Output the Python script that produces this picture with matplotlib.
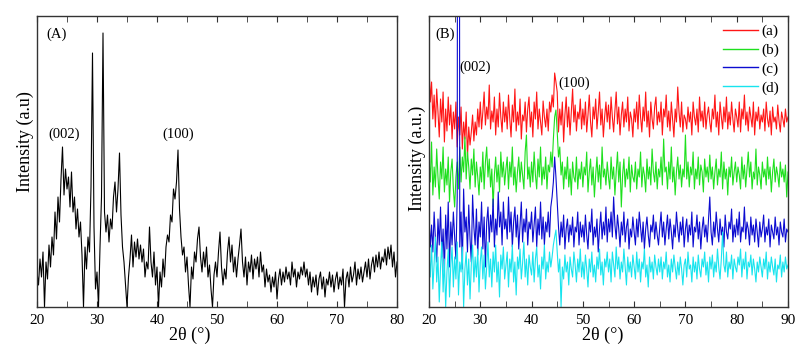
import numpy as np
import matplotlib
matplotlib.use("Agg")
import matplotlib.pyplot as plt
from matplotlib.ticker import MultipleLocator

plt.rcParams['font.family'] = ['Liberation Serif', 'DejaVu Serif']
plt.rcParams['mathtext.fontset'] = 'stix'

# ---------------- data ----------------
step = 0.25
a_start, a_end = 20, 80
b_start, b_end = 20, 90

intensity_A = [
    35, 22, 48, 30, 55, 0, 45, 28, 62, 40, 70, 52, 95, 68, 110, 85, 128, 160, 112, 138,
    118, 130, 100, 135, 95, 110, 78, 98, 70, 85, 52, 0, 60, 38, 70, 55, 120, 254, 80, 18,
    35, 0, 60, 110, 274, 95, 75, 92, 65, 88, 78, 110, 125, 95, 118, 154, 92, 60, 45, 22,
    0, 30, 48, 72, 40, 65, 50, 68, 48, 62, 45, 58, 30, 45, 38, 80, 45, 30, 55, 22,
    40, 0, 35, 20, 48, 30, 60, 72, 65, 92, 85, 118, 108, 125, 157, 98, 70, 52, 60, 35,
    50, 22, 0, 40, 28, 55, 45, 68, 80, 50, 35, 55, 40, 60, 30, 42, 18, 0, 32, 45,
    30, 55, 75, 40, 22, 38, 28, 55, 70, 45, 62, 35, 50, 30, 48, 62, 78, 45, 30, 50,
    22, 45, 35, 52, 28, 48, 38, 50, 30, 55, 35, 42, 20, 38, 25, 32, 15, 30, 20, 35,
    8, 28, 38, 22, 35, 25, 40, 28, 35, 22, 45, 30, 38, 20, 35, 28, 40, 32, 45, 30,
    38, 22, 35, 15, 30, 20, 32, 12, 28, 35, 18, 30, 10, 28, 22, 35, 20, 32, 15, 28,
    35, 18, 30, 22, 38, 0, 28, 35, 20, 40, 25, 32, 45, 22, 38, 28, 40, 25, 35, 45,
    30, 48, 28, 42, 50, 35, 52, 40, 55, 38, 50, 45, 58, 42, 60, 48, 62, 40, 55, 30,
    45,
]

series_a = [
    242, 205, 225, 188, 212, 180, 218, 195, 170, 208, 185, 215, 165, 198, 176, 210, 182, 202, 168, 195,
    178, 205, 160, 190, 172, 200, 158, 185, 168, 195, 150, 180, 162, 175, 192, 166, 185, 172, 198, 180,
    205, 178, 195, 215, 182, 200, 188, 222, 178, 196, 185, 210, 172, 198, 180, 214, 190, 175, 205, 185,
    200, 178, 212, 188, 170, 202, 185, 218, 176, 195, 182, 208, 168, 192, 186, 205, 175, 198, 210, 180,
    195, 170, 205, 188, 215, 178, 198, 185, 172, 206, 190, 180, 198, 176, 205, 195, 212, 200, 234, 225,
    215, 175, 198, 182, 205, 165, 192, 210, 180, 200, 172, 196, 218, 185, 202, 176, 195, 188, 208, 178,
    198, 182, 205, 175, 192, 212, 185, 170, 200, 188, 208, 178, 195, 215, 182, 198, 170, 190, 205, 185,
    202, 178, 210, 190, 175, 196, 215, 183, 200, 172, 192, 205, 180, 198, 185, 210, 176, 195, 188, 170,
    198, 185, 205, 178, 212, 190, 175, 200, 186, 215, 180, 196, 170, 205, 188, 178, 200, 210, 182, 195,
    185, 205, 172, 198, 190, 212, 180, 196, 176, 205, 188, 170, 198, 185, 220, 195, 180, 205, 175, 192,
    188, 178, 200, 185, 195, 172, 205, 190, 182, 198, 175, 210, 186, 196, 180, 205, 178, 192, 200, 185,
    175, 198, 188, 212, 180, 195, 172, 205, 190, 178, 200, 185, 210, 178, 195, 182, 205, 188, 175, 198,
    190, 180, 205, 175, 198, 188, 212, 182, 195, 176, 200, 190, 180, 205, 172, 195, 186, 200, 178, 192,
    185, 198, 176, 205, 188, 180, 196, 172, 200, 185, 190, 178, 202, 186, 175, 195, 188, 180, 198, 185,
    190,
]

series_b = [
    150, 125, 165, 112, 140, 120, 158, 130, 108, 145, 128, 160, 115, 138, 122, 150, 105, 135, 148, 118,
    100, 130, 145, 118, 160, 125, 150, 135, 170, 128, 155, 140, 118, 148, 132, 158, 120, 145, 130, 112,
    140, 125, 155, 118, 145, 160, 130, 148, 120, 138, 100, 132, 150, 125, 142, 115, 155, 130, 145, 122,
    138, 150, 118, 145, 130, 160, 122, 140, 115, 135, 150, 125, 145, 132, 118, 155, 172, 128, 140, 120,
    145, 125, 155, 132, 118, 148, 130, 160, 122, 140, 128, 150, 118, 142, 135, 155, 140, 168, 190, 197,
    175, 150, 160, 132, 145, 118, 140, 128, 150, 120, 138, 112, 145, 130, 125, 150, 118, 138, 128, 145,
    120, 140, 132, 155, 115, 135, 148, 122, 140, 110, 132, 150, 125, 142, 118, 160, 130, 138, 122, 145,
    130, 118, 150, 128, 140, 112, 135, 155, 125, 145, 100, 132, 148, 120, 138, 128, 150, 115, 142, 130,
    125, 145, 118, 138, 130, 155, 120, 140, 132, 115, 148, 128, 140, 122, 158, 135, 125, 145, 118, 138,
    130, 150, 122, 168, 135, 140, 118, 145, 128, 160, 125, 140, 112, 135, 150, 128, 142, 120, 138, 130,
    172, 128, 145, 120, 140, 132, 155, 118, 138, 128, 150, 122, 142, 135, 115, 148, 130, 140, 125, 152,
    128, 140, 118, 135, 148, 122, 138, 130, 155, 118, 145, 128, 138, 112, 140, 130, 150, 122, 135, 145,
    125, 140, 132, 118, 150, 128, 142, 120, 138, 155, 130, 145, 118, 135, 128, 158, 122, 140, 132, 118,
    145, 130, 138, 122, 150, 128, 140, 115, 135, 148, 125, 140, 132, 120, 145, 130, 138, 125, 142, 110,
    135,
]

series_c = [
    90, 60, 82, 55, 95, 68, 45, 88, 62, 100, 50, 78, 35, 92, 58, 105, 40, 85, 62, 95,
    70, 48, 110, 1500, 60, 95, 38, 118, 75, 90, 55, 102, 68, 45, 112, 80, 62, 98, 52, 85,
    70, 105, 58, 90, 40, 85, 100, 65, 92, 75, 108, 60, 88, 72, 115, 80, 95, 62, 105, 78,
    88, 68, 110, 75, 95, 60, 85, 100, 70, 92, 58, 82, 105, 65, 88, 75, 98, 62, 85, 78,
    95, 65, 82, 100, 60, 88, 72, 105, 68, 90, 62, 85, 75, 95, 70, 100, 110, 125, 150, 130,
    105, 80, 62, 85, 70, 92, 58, 78, 88, 65, 82, 72, 90, 60, 80, 75, 95, 62, 85, 70,
    82, 65, 92, 72, 58, 85, 75, 98, 62, 80, 70, 88, 55, 78, 95, 68, 85, 72, 100, 65,
    88, 75, 95, 70, 110, 82, 68, 92, 78, 60, 85, 72, 95, 65, 80, 88, 58, 78, 70, 90,
    75, 62, 88, 70, 95, 80, 65, 85, 58, 78, 90, 72, 60, 82, 75, 92, 68, 85, 72, 62,
    80, 95, 70, 85, 62, 78, 92, 68, 88, 75, 58, 82, 70, 95, 78, 65, 85, 72, 90, 60,
    78, 88, 65, 82, 72, 95, 60, 80, 75, 92, 68, 85, 58, 78, 90, 70, 82, 65, 88, 110,
    75, 62, 85, 70, 95, 78, 65, 88, 72, 80, 60, 92, 75, 68, 85, 78, 98, 65, 82, 70,
    88, 72, 95, 65, 80, 75, 100, 68, 85, 78, 62, 90, 72, 82, 65, 88, 75, 60, 85, 70,
    78, 92, 65, 80, 72, 88, 60, 82, 75, 68, 90, 72, 80, 62, 85, 75, 70, 88, 65, 78,
    75,
]

series_d = [
    55, 30, 62, 18, 45, 70, 25, 50, 5, 40, 65, 15, 48, 0, 35, 58, 10, 42, 60, 20,
    50, 28, 65, 12, 45, 35, 60, 0, 38, 55, 22, 48, 8, 42, 62, 25, 50, 30, 58, 15,
    45, 60, 28, 52, 18, 40, 65, 30, 48, 20, 55, 35, 62, 25, 45, 10, 52, 38, 60, 28,
    42, 55, 20, 48, 35, 62, 25, 45, 12, 50, 38, 58, 28, 44, 65, 30, 48, 22, 52, 40,
    32, 55, 25, 48, 60, 30, 42, 18, 50, 38, 62, 28, 45, 35, 55, 40, 50, 62, 70, 77,
    55, 35, 48, 0, 40, 28, 52, 35, 45, 22, 50, 38, 30, 55, 42, 25, 48, 35, 58, 30,
    45, 28, 52, 38, 20, 48, 35, 55, 30, 42, 25, 50, 38, 58, 32, 45, 22, 48, 40, 55,
    35, 48, 25, 55, 42, 30, 60, 38, 50, 28, 45, 35, 58, 40, 22, 50, 35, 45, 30, 52,
    40, 28, 55, 35, 48, 25, 45, 38, 58, 30, 42, 20, 50, 35, 45, 28, 52, 40, 32, 48,
    35, 50, 28, 45, 38, 55, 30, 42, 25, 48, 35, 52, 40, 28, 45, 32, 50, 38, 22, 42,
    48, 30, 55, 38, 42, 25, 50, 35, 45, 28, 52, 38, 30, 48, 40, 55, 32, 45, 25, 50,
    38, 52, 30, 45, 35, 58, 40, 28, 48, 75, 42, 35, 55, 30, 45, 38, 52, 28, 48, 40,
    35, 50, 42, 58, 30, 48, 38, 55, 28, 45, 40, 52, 32, 48, 38, 25, 45, 35, 50, 40,
    30, 48, 38, 55, 28, 45, 35, 50, 40, 32, 48, 25, 42, 38, 52, 30, 45, 35, 50, 38,
    42,
]

labels_B = ['(a)', '(b)', '(c)', '(d)']
colors_B = ['#ff1616', '#1ee01e', '#0c0cd0', '#18e4ee']

x_A = a_start + step * np.arange(len(intensity_A))
x_B = b_start + step * np.arange(len(series_a))
assert len(intensity_A) == int(round((a_end - a_start) / step)) + 1, len(intensity_A)
for s in (series_a, series_b, series_c, series_d):
    assert len(s) == int(round((b_end - b_start) / step)) + 1, len(s)

# ---------------- figure ----------------
fig = plt.figure(figsize=(8.05, 3.5), dpi=100)
axA = fig.add_axes([37 / 805, 43 / 350, 360 / 805, 291 / 350])
axB = fig.add_axes([429 / 805, 43 / 350, 359 / 805, 291 / 350])

tick_fs = 11
lab_fs = 13
ann_fs = 10.5

axA.plot(x_A, intensity_A, color='black', lw=0.8)
axA.set_xlim(a_start, a_end)
axA.set_ylim(0, 291)

for s, c, l in zip((series_a, series_b, series_c, series_d), colors_B, labels_B):
    axB.plot(x_B, s, color=c, lw=0.8, label=l)
axB.set_xlim(b_start, b_end)
axB.set_ylim(0, 291)

for ax in (axA, axB):
    ax.set_yticks([])
    ax.xaxis.set_major_locator(MultipleLocator(10))
    ax.xaxis.set_minor_locator(MultipleLocator(5))
    ax.tick_params(axis='x', which='both', direction='in', top=True, bottom=True,
                   labelsize=tick_fs, pad=5, color='#333333')
    ax.tick_params(axis='x', which='major', length=4)
    ax.tick_params(axis='x', which='minor', length=4)
    for sp in ax.spines.values():
        sp.set_color('#333333')
        sp.set_linewidth(1.0)
    ax.set_xlabel('2θ (°)', fontsize=lab_fs)

axA.xaxis.set_label_coords(0.425, -0.068)
axB.xaxis.set_label_coords(0.485, -0.068)

axA.set_ylabel('Intensity (a.u)', fontsize=lab_fs)
axA.yaxis.set_label_coords(-0.008, 0.57)
axB.set_ylabel('Intensity (a.u.)', fontsize=lab_fs)
axB.yaxis.set_label_coords(-0.008, 0.51)

axA.text(0.025, 0.96, '(A)', transform=axA.transAxes, fontsize=ann_fs, va='top', ha='left')
axA.text(24.6, 166, '(002)', fontsize=ann_fs, ha='center', va='bottom')
axA.text(43.5, 166, '(100)', fontsize=ann_fs, ha='center', va='bottom')

axB.text(0.018, 0.96, '(B)', transform=axB.transAxes, fontsize=ann_fs, va='top', ha='left')
axB.text(25.9, 233, '(002)', fontsize=ann_fs, ha='left', va='bottom')
axB.text(45.3, 217, '(100)', fontsize=ann_fs, ha='left', va='bottom')

leg = axB.legend(loc='upper right', frameon=False, fontsize=11, handlelength=2.3,
                 handletextpad=0.25, labelspacing=0.32, borderaxespad=0.25,
                 borderpad=0.3)
for h in leg.legend_handles:
    h.set_linewidth(1.0)

fig.savefig('out.png', dpi=100)
